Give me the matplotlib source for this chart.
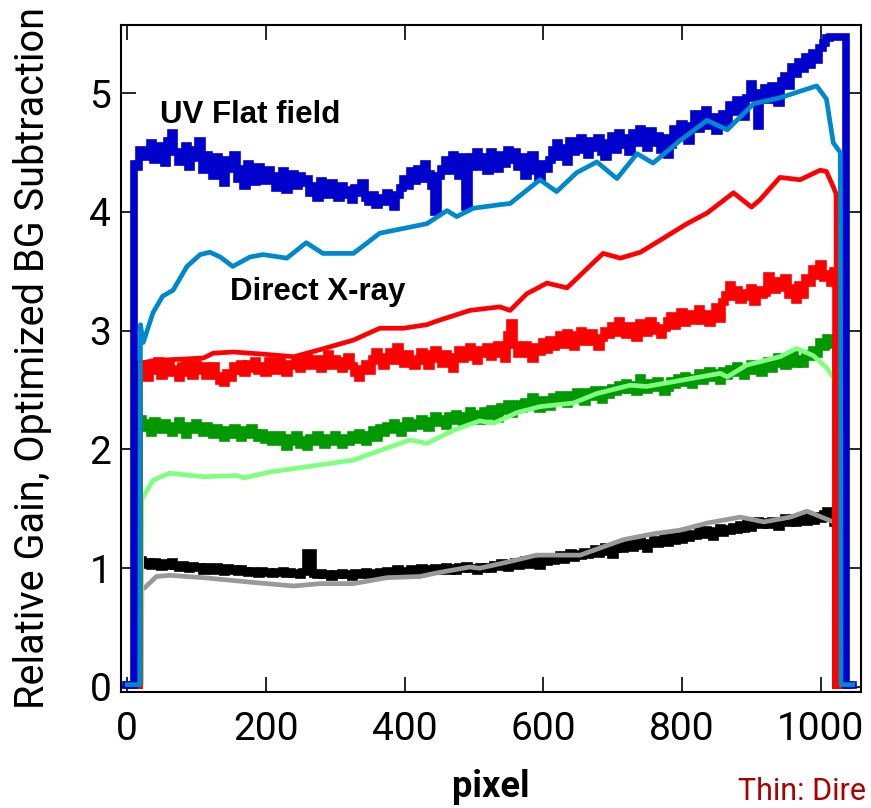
import numpy as np
import matplotlib
matplotlib.use("Agg")
import matplotlib.pyplot as plt

# ---------------------------------------------------------------------------
# Gain profiles along the detector (pixel index -> relative gain)
# ---------------------------------------------------------------------------

# UV flat field, raw (thick dark blue), every 5 px from 10 to 1030
uv_raw_x = np.arange(10, 1031, 5)
uv_raw = [
    4.40, 4.38, 4.52, 4.46, 4.50, 4.58, 4.44, 4.49, 4.55, 4.41,
    4.60, 4.66, 4.50, 4.42, 4.48, 4.55, 4.38, 4.52, 4.45, 4.60,
    4.35, 4.48, 4.42, 4.30, 4.46, 4.38, 4.24, 4.44, 4.36, 4.48,
    4.28, 4.36, 4.22, 4.40, 4.30, 4.25, 4.38, 4.32, 4.26, 4.35,
    4.30, 4.20, 4.28, 4.34, 4.18, 4.26, 4.32, 4.22, 4.30, 4.24,
    4.28, 4.16, 4.22, 4.12, 4.26, 4.18, 4.14, 4.24, 4.20, 4.12,
    4.22, 4.14, 4.18, 4.10, 4.20, 4.16, 4.24, 4.12, 4.08, 4.14,
    4.06, 4.12, 4.08, 4.16, 4.10, 4.04, 4.14, 4.20, 4.28, 4.22,
    4.34, 4.26, 4.36, 4.28, 4.40, 4.32, 4.22, 4.00, 4.30, 4.36,
    4.44, 4.34, 4.48, 4.40, 4.30, 4.46, 4.04, 4.38, 4.46, 4.50,
    4.38, 4.46, 4.34, 4.50, 4.42, 4.36, 4.48, 4.40, 4.52, 4.44,
    4.50, 4.38, 4.46, 4.30, 4.42, 4.48, 4.34, 4.28, 4.40, 4.36,
    4.44, 4.52, 4.58, 4.46, 4.54, 4.42, 4.60, 4.50, 4.56, 4.62,
    4.52, 4.48, 4.60, 4.54, 4.62, 4.50, 4.46, 4.58, 4.64, 4.52,
    4.66, 4.56, 4.62, 4.50, 4.66, 4.58, 4.70, 4.60, 4.54, 4.68,
    4.58, 4.64, 4.52, 4.62, 4.48, 4.56, 4.70, 4.64, 4.74, 4.66,
    4.60, 4.72, 4.82, 4.70, 4.78, 4.86, 4.72, 4.80, 4.68, 4.76,
    4.82, 4.74, 4.90, 4.84, 4.94, 4.86, 4.80, 4.96, 5.08, 5.00,
    4.72, 4.98, 5.04, 4.94, 5.06, 5.00, 4.92, 5.10, 5.14, 5.06,
    5.22, 5.16, 5.26, 5.20, 5.30, 5.24, 5.34, 5.28, 5.38, 5.42,
    5.46, 5.47, 5.47, 5.47, 5.47]

# UV flat field, smoothed (thin light blue)
uv_smooth_x = [0, 18, 19, 23, 37, 51, 66, 86, 105, 119, 134, 152, 177, 196,
               230, 258, 282, 326, 364, 398, 432, 461, 475, 499, 537, 552,
               595, 619, 648, 677, 706, 735, 758, 797, 836, 865, 903, 941,
               994, 1008, 1018, 1028, 1029, 1046]
uv_smooth = [0.02, 0.02, 3.05, 2.90, 3.15, 3.29, 3.34, 3.54, 3.64, 3.66,
             3.62, 3.54, 3.62, 3.64, 3.61, 3.74, 3.65, 3.65, 3.82, 3.86,
             3.90, 4.01, 3.96, 4.03, 4.06, 4.07, 4.27, 4.17, 4.33, 4.42,
             4.28, 4.49, 4.41, 4.60, 4.77, 4.69, 4.91, 4.96, 5.06, 4.95,
             4.58, 4.50, 0.02, 0.02]

# Direct X-ray, raw (thick red), every 5 px from 20 to 1020
xray_raw_x = np.arange(20, 1021, 5)
xray_raw = [
    2.72, 2.64, 2.60, 2.70, 2.66, 2.74, 2.62, 2.68, 2.72, 2.64,
    2.68, 2.60, 2.70, 2.74, 2.64, 2.62, 2.72, 2.66, 2.70, 2.62,
    2.66, 2.70, 2.62, 2.58, 2.56, 2.64, 2.60, 2.70, 2.66, 2.72,
    2.64, 2.72, 2.68, 2.74, 2.66, 2.70, 2.64, 2.74, 2.70, 2.66,
    2.74, 2.68, 2.64, 2.72, 2.70, 2.76, 2.68, 2.74, 2.78, 2.70,
    2.72, 2.76, 2.68, 2.74, 2.80, 2.70, 2.76, 2.72, 2.68, 2.74,
    2.78, 2.70, 2.64, 2.60, 2.68, 2.72, 2.66, 2.76, 2.82, 2.74,
    2.70, 2.78, 2.82, 2.74, 2.86, 2.78, 2.72, 2.80, 2.76, 2.70,
    2.74, 2.82, 2.78, 2.70, 2.80, 2.84, 2.76, 2.72, 2.80, 2.74,
    2.68, 2.78, 2.84, 2.76, 2.82, 2.86, 2.78, 2.74, 2.84, 2.80,
    2.86, 2.78, 2.82, 2.88, 2.80, 2.76, 2.96, 3.06, 2.88, 2.80,
    2.82, 2.88, 2.80, 2.76, 2.86, 2.82, 2.90, 2.84, 2.92, 2.86,
    2.90, 2.96, 2.88, 2.98, 2.92, 2.86, 2.96, 3.00, 2.90, 2.94,
    2.98, 2.90, 2.86, 2.94, 3.00, 2.96, 3.04, 2.98, 3.08, 3.02,
    2.96, 3.04, 3.00, 2.94, 3.06, 3.02, 2.98, 3.08, 3.04, 3.00,
    2.96, 3.02, 3.08, 3.12, 3.04, 3.10, 3.16, 3.06, 3.14, 3.08,
    3.12, 3.18, 3.08, 3.14, 3.06, 3.12, 3.20, 3.10, 3.24, 3.30,
    3.38, 3.28, 3.34, 3.26, 3.32, 3.28, 3.36, 3.24, 3.34, 3.30,
    3.32, 3.46, 3.40, 3.34, 3.42, 3.36, 3.44, 3.30, 3.36, 3.26,
    3.38, 3.30, 3.44, 3.40, 3.52, 3.46, 3.56, 3.44, 3.48, 3.40,
    3.50]

# Direct X-ray, smoothed (thin red)
xray_smooth_x = [0, 14, 15, 40, 80, 110, 124, 153, 200, 240, 278, 326, 364,
                 398, 432, 446, 494, 537, 552, 576, 605, 634, 686, 711, 740,
                 768, 807, 836, 874, 900, 912, 941, 970, 999, 1008, 1018,
                 1022, 1023, 1040]
xray_smooth = [0.02, 0.02, 2.72, 2.75, 2.76, 2.77, 2.81, 2.82, 2.80, 2.78,
               2.84, 2.92, 3.02, 3.02, 3.05, 3.08, 3.17, 3.20, 3.17, 3.31,
               3.40, 3.36, 3.65, 3.61, 3.66, 3.76, 3.90, 3.99, 4.16, 4.04,
               4.10, 4.29, 4.27, 4.35, 4.34, 4.21, 4.15, 0.02, 0.02]

# Green set, raw (thick green), every 5 px from 20 to 1020
green_raw_x = np.arange(20, 1021, 5)
green_raw = [
    2.26, 2.18, 2.22, 2.14, 2.24, 2.20, 2.16, 2.22, 2.18, 2.14,
    2.20, 2.24, 2.16, 2.12, 2.20, 2.16, 2.22, 2.18, 2.14, 2.20,
    2.16, 2.12, 2.18, 2.14, 2.10, 2.16, 2.12, 2.18, 2.14, 2.10,
    2.16, 2.12, 2.18, 2.14, 2.10, 2.14, 2.08, 2.12, 2.06, 2.10,
    2.12, 2.06, 2.02, 2.10, 2.06, 2.12, 2.04, 2.08, 2.02, 2.10,
    2.06, 2.12, 2.08, 2.04, 2.10, 2.06, 2.12, 2.08, 2.04, 2.10,
    2.06, 2.12, 2.08, 2.14, 2.10, 2.06, 2.12, 2.16, 2.10, 2.18,
    2.14, 2.20, 2.16, 2.22, 2.18, 2.14, 2.20, 2.24, 2.18, 2.22,
    2.20, 2.26, 2.22, 2.18, 2.24, 2.28, 2.22, 2.26, 2.20, 2.28,
    2.24, 2.30, 2.26, 2.22, 2.28, 2.32, 2.26, 2.30, 2.24, 2.32,
    2.28, 2.34, 2.30, 2.26, 2.36, 2.32, 2.38, 2.30, 2.34, 2.38,
    2.34, 2.40, 2.36, 2.44, 2.38, 2.34, 2.42, 2.38, 2.36, 2.44,
    2.40, 2.46, 2.42, 2.38, 2.46, 2.42, 2.48, 2.44, 2.40, 2.48,
    2.44, 2.50, 2.46, 2.42, 2.50, 2.46, 2.52, 2.48, 2.54, 2.50,
    2.56, 2.50, 2.54, 2.48, 2.60, 2.54, 2.50, 2.56, 2.52, 2.58,
    2.54, 2.48, 2.52, 2.58, 2.54, 2.60, 2.56, 2.62, 2.58, 2.54,
    2.60, 2.64, 2.58, 2.62, 2.66, 2.60, 2.64, 2.58, 2.66, 2.62,
    2.68, 2.64, 2.70, 2.66, 2.62, 2.68, 2.72, 2.66, 2.70, 2.64,
    2.70, 2.74, 2.68, 2.72, 2.78, 2.74, 2.70, 2.76, 2.80, 2.72,
    2.76, 2.72, 2.80, 2.78, 2.84, 2.80, 2.90, 2.86, 2.94, 2.88,
    2.90]

# Green set, smoothed (thin light green)
green_smooth_x = [0, 20, 21, 37, 61, 110, 158, 168, 206, 254, 302, 326, 364,
                  408, 432, 470, 508, 528, 562, 595, 643, 677, 725, 749, 797,
                  855, 865, 893, 941, 965, 989, 1008, 1021, 1024, 1025, 1040]
green_smooth = [0.02, 0.02, 1.58, 1.74, 1.80, 1.77, 1.78, 1.76, 1.81, 1.85,
                1.89, 1.91, 1.99, 2.08, 2.05, 2.16, 2.24, 2.22, 2.31, 2.36,
                2.39, 2.47, 2.54, 2.53, 2.58, 2.64, 2.61, 2.71, 2.78, 2.85,
                2.79, 2.69, 2.58, 2.50, 0.02, 0.02]

# Black set, raw (thick black), every 5 px from 20 to 1020
black_raw_x = np.arange(20, 1021, 5)
black_raw = [
    1.07, 1.03, 1.05, 1.02, 1.05, 1.03, 1.01, 1.04, 1.02, 1.05,
    1.02, 1.00, 1.03, 1.01, 0.99, 1.02, 1.00, 1.01, 0.98, 1.01,
    1.00, 0.98, 1.01, 0.99, 0.97, 1.00, 0.98, 0.99, 0.97, 0.99,
    0.98, 0.96, 0.98, 0.97, 0.95, 0.98, 0.96, 0.97, 0.95, 0.97,
    0.96, 0.98, 0.95, 0.97, 0.95, 0.96, 0.94, 0.97, 1.13, 1.13,
    0.95, 0.94, 0.96, 0.94, 0.95, 0.93, 0.95, 0.94, 0.96, 0.94,
    0.95, 0.93, 0.96, 0.94, 0.95, 0.97, 0.94, 0.96, 0.95, 0.97,
    0.96, 0.98, 0.96, 0.97, 0.99, 0.96, 0.98, 0.97, 0.99, 0.97,
    0.98, 1.00, 0.97, 0.99, 0.98, 1.00, 0.98, 0.99, 1.01, 0.98,
    1.00, 0.98, 1.01, 0.99, 1.02, 0.99, 1.00, 0.98, 1.01, 0.99,
    1.01, 0.99, 1.03, 1.01, 1.04, 1.02, 1.00, 1.03, 1.05, 1.02,
    1.04, 1.07, 1.03, 1.06, 1.04, 1.02, 1.07, 1.05, 1.09, 1.06,
    1.08, 1.11, 1.07, 1.10, 1.13, 1.09, 1.12, 1.10, 1.14, 1.11,
    1.13, 1.16, 1.12, 1.15, 1.18, 1.14, 1.11, 1.16, 1.19, 1.16,
    1.18, 1.21, 1.17, 1.20, 1.23, 1.19, 1.16, 1.21, 1.24, 1.20,
    1.22, 1.25, 1.21, 1.26, 1.23, 1.27, 1.24, 1.28, 1.25, 1.29,
    1.27, 1.31, 1.28, 1.32, 1.29, 1.26, 1.31, 1.34, 1.30, 1.33,
    1.31, 1.35, 1.32, 1.36, 1.33, 1.38, 1.34, 1.37, 1.40, 1.36,
    1.39, 1.36, 1.40, 1.37, 1.35, 1.39, 1.42, 1.38, 1.41, 1.38,
    1.40, 1.43, 1.39, 1.42, 1.40, 1.44, 1.41, 1.46, 1.48, 1.44,
    1.38]

# Black set, smoothed (thin gray)
black_smooth_x = [0, 20, 21, 26, 42, 61, 110, 182, 240, 278, 326, 374, 422,
                  446, 494, 508, 547, 590, 653, 715, 759, 797, 836, 884, 918,
                  956, 980, 1018, 1021, 1022, 1040]
black_smooth = [0.02, 0.02, 0.82, 0.84, 0.93, 0.94, 0.92, 0.88, 0.85, 0.87,
                0.87, 0.92, 0.93, 0.96, 1.01, 1.00, 1.05, 1.11, 1.11, 1.24,
                1.29, 1.32, 1.38, 1.43, 1.39, 1.43, 1.48, 1.39, 1.36, 0.02,
                0.02]

# Edges of the sensitive area: zero response before/after
raw_lead = {"uv": (-2, 8), "xray": (0, 14), "green": (0, 14), "black": (0, 15)}
raw_tail = {"uv": (1036, 1046), "xray": (1021, 1040),
            "green": (1021, 1040), "black": (1021, 1040)}
EDGE_LEVEL = 0.02

XTICKS = [0, 200, 400, 600, 800, 1000]
YTICKS = [0, 1, 2, 3, 4, 5]


def with_edges(x, y, key):
    """Pad a raw profile with the zero-response regions on both ends."""
    lo = raw_lead[key]
    hi = raw_tail[key]
    xs = [lo[0], lo[1]] + list(x) + [hi[0], hi[0] + 1, hi[1]]
    ys = [EDGE_LEVEL, EDGE_LEVEL] + list(y) + [y[-1], EDGE_LEVEL, EDGE_LEVEL]
    return np.asarray(xs, float), np.asarray(ys, float)


fig = plt.figure(figsize=(8.71, 8.08), dpi=100)
ax = fig.add_axes([0.1389, 0.1436, 0.8493, 0.8258])

THICK = 5.5
THIN = 3.4
raw_style = dict(lw=THICK, drawstyle="steps-mid", solid_joinstyle="miter")

bx, by = with_edges(black_raw_x, black_raw, "black")
ax.plot(bx, by, color="#000000", zorder=2, **raw_style)
ax.plot(black_smooth_x, black_smooth, color="#999999", lw=THIN, zorder=3)

gx, gy = with_edges(green_raw_x, green_raw, "green")
ax.plot(gx, gy, color="#009900", zorder=4, **raw_style)
ax.plot(green_smooth_x, green_smooth, color="#80FF80", lw=THIN, zorder=5)

rx, ry = with_edges(xray_raw_x, xray_raw, "xray")
ax.plot(rx, ry, color="#FF0000", zorder=6, **raw_style)
ax.plot(xray_smooth_x, xray_smooth, color="#FF0000", lw=THIN, zorder=7)

ux, uy = with_edges(uv_raw_x, uv_raw, "uv")
ax.plot(ux, uy, color="#0000CC", zorder=8, **raw_style)
ax.plot(uv_smooth_x, uv_smooth, color="#0088CC", lw=THIN, zorder=9)

ax.set_xlim(-9.1, 1057.5)
ax.set_ylim(-0.042, 5.575)
ax.set_xticks(XTICKS)
ax.set_yticks(YTICKS)
ax.set_xticklabels([str(v) for v in XTICKS])
ax.set_yticklabels([str(v) for v in YTICKS])

for lab in ax.get_xticklabels() + ax.get_yticklabels():
    lab.set_fontfamily("Roboto")
    lab.set_fontsize(28)

ax.tick_params(axis="both", which="major", direction="in", length=11,
               width=1.2, top=True, right=True, color="black")
ax.tick_params(axis="x", pad=14)
ax.tick_params(axis="y", pad=7)
for sp in ax.spines.values():
    sp.set_linewidth(1.5)

ax.set_ylabel("Relative Gain, Optimized BG Subtraction", family="Roboto",
              size=28.5, va="center")
ax.yaxis.set_label_coords(-0.119, 0.5)
ax.set_xlabel("pixel", family="Roboto", size=26, weight="bold", va="center")
ax.xaxis.set_label_coords(0.5, -0.142)

ann = dict(family="Liberation Sans", weight="bold", size=22.5,
           ha="left", va="baseline", color="black", zorder=10)
ax.text(47, 4.745, "UV Flat field", **ann)
ax.text(148, 3.257, "Direct X-ray", **ann)

fig.text(738 / 871, 0.0099, "Thin: Dire", family="Roboto", size=22,
         color="#AA0000", ha="left", va="baseline")

fig.savefig("out.png", dpi=100)
